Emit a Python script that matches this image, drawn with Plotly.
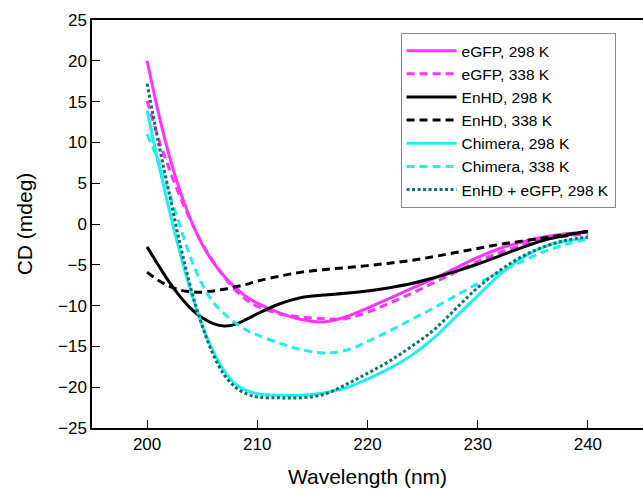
import plotly.graph_objects as go

wl = [200, 201, 202, 203, 204, 205, 206, 207, 208, 209, 210, 212, 214, 216, 218,
      220, 222, 224, 226, 228, 230, 232, 234, 236, 238, 240]

egfp_298 = [20.0, 13.8, 8.4, 4.0, 0.4, -2.5, -4.7, -6.4, -7.8, -8.9, -9.7, -10.9, -11.7, -12.0, -11.4,
            -10.3, -9.1, -7.9, -6.7, -5.4, -4.1, -3.0, -2.2, -1.6, -1.2, -1.0]
egfp_338 = [15.1, 10.6, 6.8, 3.3, 0.3, -2.4, -4.6, -6.5, -8.1, -9.3, -10.1, -11.0, -11.4, -11.6, -11.6,
            -10.8, -9.7, -8.5, -7.2, -5.9, -4.6, -3.5, -2.6, -1.9, -1.5, -1.2]
enhd_298 = [-2.8, -5.0, -7.1, -8.9, -10.4, -11.5, -12.2, -12.5, -12.3, -11.7, -11.0, -9.8, -9.0, -8.7, -8.5,
            -8.2, -7.8, -7.3, -6.6, -5.8, -4.9, -3.9, -2.9, -2.0, -1.4, -0.9]
enhd_338 = [-5.9, -6.9, -7.6, -8.1, -8.3, -8.35, -8.2, -8.0, -7.7, -7.4, -7.0, -6.4, -5.9, -5.6, -5.35,
            -5.1, -4.8, -4.45, -4.0, -3.5, -3.0, -2.5, -2.1, -1.7, -1.3, -0.9]
chim_298 = [13.9, 7.6, 1.8, -3.6, -8.4, -12.4, -15.6, -18.0, -19.6, -20.4, -20.8, -21.0, -21.0, -20.7, -20.1,
            -19.0, -17.7, -16.1, -14.0, -11.4, -8.8, -6.2, -4.2, -2.8, -2.1, -1.7]
chim_338 = [11.0, 7.8, 3.8, -0.3, -4.3, -7.4, -9.6, -11.0, -12.1, -13.0, -13.6, -14.6, -15.4, -15.8, -15.5,
            -14.4, -13.1, -11.7, -10.3, -8.8, -7.3, -5.9, -4.6, -3.4, -2.5, -1.8]
mix_298 = [17.2, 10.2, 3.8, -2.5, -8.0, -12.5, -16.0, -18.5, -20.0, -20.8, -21.2, -21.3, -21.3, -20.9, -19.7,
           -18.3, -16.8, -15.0, -13.0, -10.4, -7.8, -5.7, -4.0, -2.8, -2.0, -1.6]

series = [
    ("eGFP, 298 K", egfp_298, "#ff33ff", "solid"),
    ("eGFP, 338 K", egfp_338, "#ff33ff", "8px,5px"),
    ("EnHD, 298 K", enhd_298, "black", "solid"),
    ("EnHD, 338 K", enhd_338, "black", "8px,5px"),
    ("Chimera, 298 K", chim_298, "#22eeee", "solid"),
    ("Chimera, 338 K", chim_338, "#22eeee", "8px,5px"),
    ("EnHD + eGFP, 298 K", mix_298, "#137070", "3px,2.5px"),
]

fig = go.Figure()
for name, vals, col, dash in series:
    fig.add_trace(go.Scatter(x=wl, y=vals, name=name, mode="lines",
                             line=dict(color=col, dash=dash, width=3, shape="spline")))

font = "Arial, Liberation Sans, sans-serif"
fig.update_layout(
    width=643, height=489,
    margin=dict(l=92, r=0, t=20, b=61),
    plot_bgcolor="white", paper_bgcolor="white",
    font=dict(family=font, color="black"),
    showlegend=True,
    legend=dict(x=0.56, y=0.968, xanchor="left", yanchor="top",
                bgcolor="white", bordercolor="#888888", borderwidth=1,
                font=dict(size=15.5, family=font), itemwidth=50),
)
fig.update_xaxes(range=[195, 245], tickvals=[200, 210, 220, 230, 240],
                 ticks="inside", ticklen=8, tickcolor="black", tickwidth=1.3,
                 showline=True, linecolor="black", linewidth=1.5, mirror=True,
                 showgrid=False, zeroline=False, tickfont=dict(size=17), automargin=False,
                 title=dict(text="Wavelength (nm)", font=dict(size=21), standoff=16))
fig.update_yaxes(range=[-25, 25], dtick=5,
                 ticks="inside", ticklen=8, tickcolor="black", tickwidth=1.3,
                 showline=True, linecolor="black", linewidth=1.5,
                 showgrid=False, zeroline=False, tickfont=dict(size=17), automargin=False,
                 title=dict(text="CD (mdeg)", font=dict(size=21), standoff=20))

# page body has a default 8px margin; drop it so the figure sits at the window corner
fig.write_html("out.html", config={"displayModeBar": False},
               post_script="document.body.style.margin='0px';")
